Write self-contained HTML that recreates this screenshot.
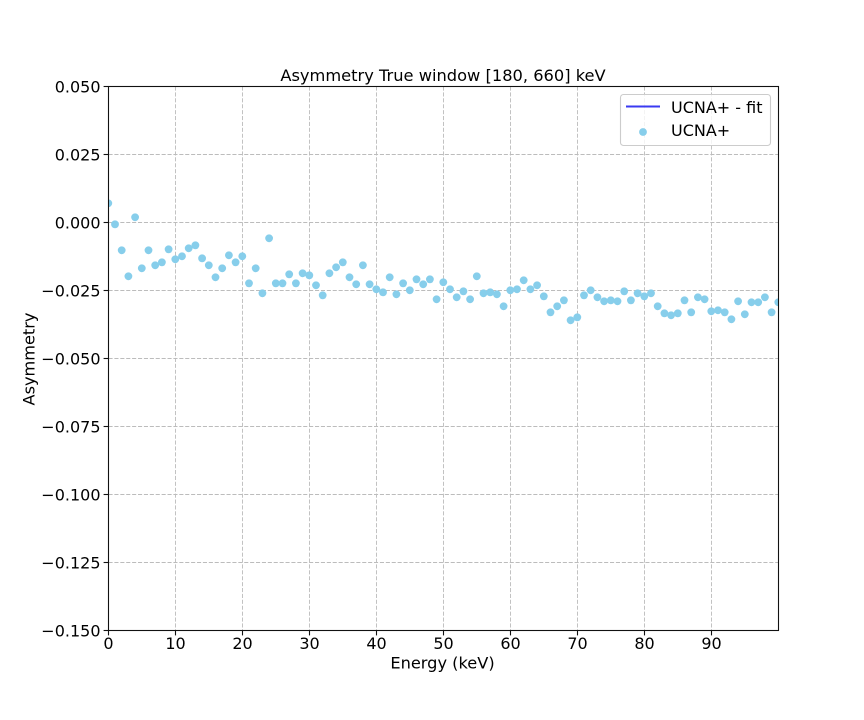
<!DOCTYPE html>
<html lang="en">
<head>
<meta charset="utf-8">
<title>Asymmetry True window</title>
<style>
html,body{margin:0;padding:0;background:#fff;}
svg{display:block;}
text{font-family:"DejaVu Sans","Liberation Sans",sans-serif;font-size:16px;fill:#000;}
</style>
</head>
<body>
<svg id="chart" xmlns="http://www.w3.org/2000/svg" width="864" height="720" viewBox="0 0 864 720">
  <defs><clipPath id="plot-clip"><rect x="108.5" y="86.5" width="670" height="544"/></clipPath></defs>
  <rect x="0" y="0" width="864" height="720" fill="#fff"/>
  <g id="grid"></g>
  <g id="points" clip-path="url(#plot-clip)"></g>
  <g id="ticks"></g>
  <rect x="108.5" y="86.5" width="670" height="544" fill="none" stroke="#111" stroke-width="1.1"/>
  <text x="443" y="81" text-anchor="middle" style="font-size:16.25px">Asymmetry True window [180, 660] keV</text>
  <text x="442.5" y="668.5" text-anchor="middle" style="font-size:16.2px">Energy (keV)</text>
  <text transform="translate(34.5 359) rotate(-90)" text-anchor="middle" style="font-size:16.15px">Asymmetry</text>
  <g>
    <rect x="620.5" y="94.5" width="150" height="51" rx="3" fill="#fff" fill-opacity="0.8" stroke="#ccc" stroke-width="1.1"/>
    <line x1="626" y1="106.5" x2="660" y2="106.5" stroke="#3a3af2" stroke-width="2"/>
    <text x="671" y="113">UCNA+ - fit</text>
    <circle cx="643" cy="132" r="3.9" fill="#87ceeb"/>
    <text x="671" y="136">UCNA+</text>
  </g>
</svg>
<script>
const energies = [0,1,2,3,4,5,6,7,8,9,10,11,12,13,14,15,16,17,18,19,20,21,22,23,24,25,26,27,28,29,30,31,32,33,34,35,36,37,38,39,40,41,42,43,44,45,46,47,48,49,50,51,52,53,54,55,56,57,58,59,60,61,62,63,64,65,66,67,68,69,70,71,72,73,74,75,76,77,78,79,80,81,82,83,84,85,86,87,88,89,90,91,92,93,94,95,96,97,98,99,100];
const asymmetry = [0.00699,-0.00074,-0.01029,-0.01985,0.00184,-0.01691,-0.01029,-0.01581,-0.01471,-0.00993,-0.0136,-0.0125,-0.00956,-0.00846,-0.01324,-0.01581,-0.02022,-0.01691,-0.01213,-0.01471,-0.0125,-0.02243,-0.01691,-0.0261,-0.00588,-0.02243,-0.02243,-0.01912,-0.02243,-0.01875,-0.01949,-0.02316,-0.02684,-0.01875,-0.01654,-0.01471,-0.02022,-0.02279,-0.01581,-0.02279,-0.02463,-0.02574,-0.02022,-0.02647,-0.02243,-0.025,-0.02096,-0.02279,-0.02096,-0.02831,-0.02206,-0.02463,-0.02757,-0.02537,-0.02831,-0.01985,-0.0261,-0.02574,-0.02647,-0.03088,-0.025,-0.02463,-0.02132,-0.02463,-0.02316,-0.02721,-0.03309,-0.03088,-0.02868,-0.03603,-0.03493,-0.02684,-0.025,-0.02757,-0.02904,-0.02868,-0.02904,-0.02537,-0.02868,-0.0261,-0.02721,-0.0261,-0.03088,-0.03346,-0.03419,-0.03346,-0.02868,-0.03309,-0.02757,-0.02831,-0.03272,-0.03235,-0.03309,-0.03566,-0.02904,-0.03382,-0.02941,-0.02941,-0.02757,-0.03309,-0.02941];
const xTickValues = [0,10,20,30,40,50,60,70,80,90];
const yTickValues = [0.05,0.025,0,-0.025,-0.05,-0.075,-0.1,-0.125,-0.15];
const yTickLabels = ["0.050","0.025","0.000","\u22120.025","\u22120.050","\u22120.075","\u22120.100","\u22120.125","\u22120.150"];

const NS = "http://www.w3.org/2000/svg";
const plot = { left: 108.5, right: 778.5, top: 86.5, bottom: 630.5, xMin: 0, xMax: 100, yMin: -0.15, yMax: 0.05 };
function xScale(v) { return plot.left + (v - plot.xMin) / (plot.xMax - plot.xMin) * (plot.right - plot.left); }
function yScale(v) { return plot.bottom - (v - plot.yMin) / (plot.yMax - plot.yMin) * (plot.bottom - plot.top); }
function make(tag, attrs, parent) {
  const el = document.createElementNS(NS, tag);
  for (const k in attrs) el.setAttribute(k, attrs[k]);
  parent.appendChild(el);
  return el;
}
const gridGroup = document.getElementById("grid");
const tickGroup = document.getElementById("ticks");
const pointGroup = document.getElementById("points");
const gridStyle = { stroke: "#bcbcbc", "stroke-width": 0.9, "stroke-dasharray": "4.1 1.8", fill: "none" };

xTickValues.forEach(function (v) {
  const x = xScale(v);
  const g = make("line", Object.assign({ x1: x, x2: x, y1: plot.top, y2: plot.bottom }, gridStyle), gridGroup);
  
  
  const t = make("line", { x1: x, x2: x, y1: plot.bottom, y2: plot.bottom + 4.9, stroke: "#111", "stroke-width": 1.1 }, tickGroup);
  
  
  const l = make("text", { x: x, y: plot.bottom + 18.5, "text-anchor": "middle" }, tickGroup);
  
  
  l.textContent = String(v);
});

yTickValues.forEach(function (v, i) {
  const y = yScale(v);
  const g = make("line", Object.assign({ x1: plot.left, x2: plot.right, y1: y, y2: y }, gridStyle), gridGroup);
  
  
  const t = make("line", { x1: plot.left - 4.9, x2: plot.left, y1: y, y2: y, stroke: "#111", "stroke-width": 1.1 }, tickGroup);
  
  
  const l = make("text", { x: plot.left - 8, y: y + 6, "text-anchor": "end" }, tickGroup);
  
  
  l.textContent = yTickLabels[i];
});

energies.forEach(function (e, i) {
  const c = make("circle", { cx: xScale(e) - 0.2, cy: yScale(asymmetry[i]) - 0.2, r: 3.9, fill: "#87ceeb" }, pointGroup);
  
  
});
</script>
</body>
</html>
